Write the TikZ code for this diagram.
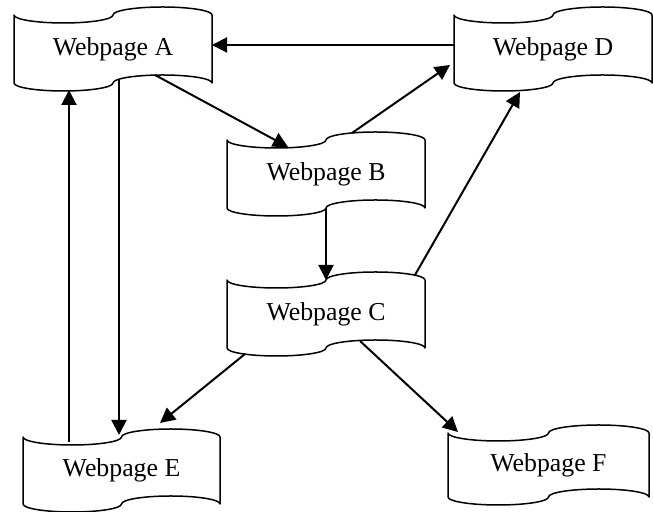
\documentclass[tikz,border=0pt]{standalone}
\usepackage{fontspec}
\setmainfont{Liberation Serif}
\usetikzlibrary{calc,arrows.meta}
\tikzset{
  tapetext/.style={inner sep=0pt, outer sep=0pt, font=\fontsize{12.9}{15}\selectfont},
  tapeline/.style={line width=0.75pt, line join=round},
  link/.style={line width=1pt, -{Triangle[length=7.5pt,width=7.5pt]}}
}
% name, cx, cy (y up, px), width, height, text
\newcommand\tapebox[6]{%
  \node[tapetext, minimum width={#4*0.5pt}, minimum height={#5*0.5pt}] (#1) at (#2,#3) {#6};
  \draw[tapeline] (#1.north west)
    arc[start angle=180, end angle=360, x radius={#4*0.125pt}, y radius=4pt]
    arc[start angle=180, end angle=0, x radius={#4*0.125pt}, y radius=4pt]
    -- (#1.south east)
    arc[start angle=0, end angle=180, x radius={#4*0.125pt}, y radius=4pt]
    arc[start angle=0, end angle=-180, x radius={#4*0.125pt}, y radius=4pt]
    -- cycle;
}
\begin{document}
\begin{tikzpicture}[x=0.5pt,y=0.5pt]
\useasboundingbox (0,0) rectangle (653,512);
\tapebox{A}{113}{463}{198}{68}{Webpage A}
\tapebox{D}{553}{463}{198}{68}{Webpage D}
\tapebox{B}{326}{338}{198}{68}{Webpage B}
\tapebox{C}{326}{198}{198}{68}{Webpage C}
\tapebox{E}{121.5}{41.5}{197}{67}{Webpage E}
\tapebox{F}{548.5}{47}{201}{64}{Webpage F}
\draw[link] ($(D.west)+(0,4)$) -- ($(A.east)+(0,4)$);
\draw[link] ($(A.south)+(42,8)$) -- ($(B.north)+(-38,-7)$);
\draw[link] ($(B.north)+(26,7)$) -- ($(D.west)+(-4,-16)$);
\draw[link] (B.south) -- (C.north);
\draw[link] ($(C.north)+(89,5)$) -- ($(D.south)+(-33,-9)$);
\draw[link] ($(A.south)+(6,4)$) -- ($(E.north)+(-2.5,2)$);
\draw[link] ($(E.north)+(-52.5,-5)$) -- ($(A.south)+(-44,-7)$);
\draw[link] ($(C.south)+(-81,-6)$) -- ($(E.north)+(38.5,14)$);
\draw[link] ($(C.south)+(34,7)$) -- ($(F.north)+(-90.5,1)$);
\end{tikzpicture}
\end{document}
